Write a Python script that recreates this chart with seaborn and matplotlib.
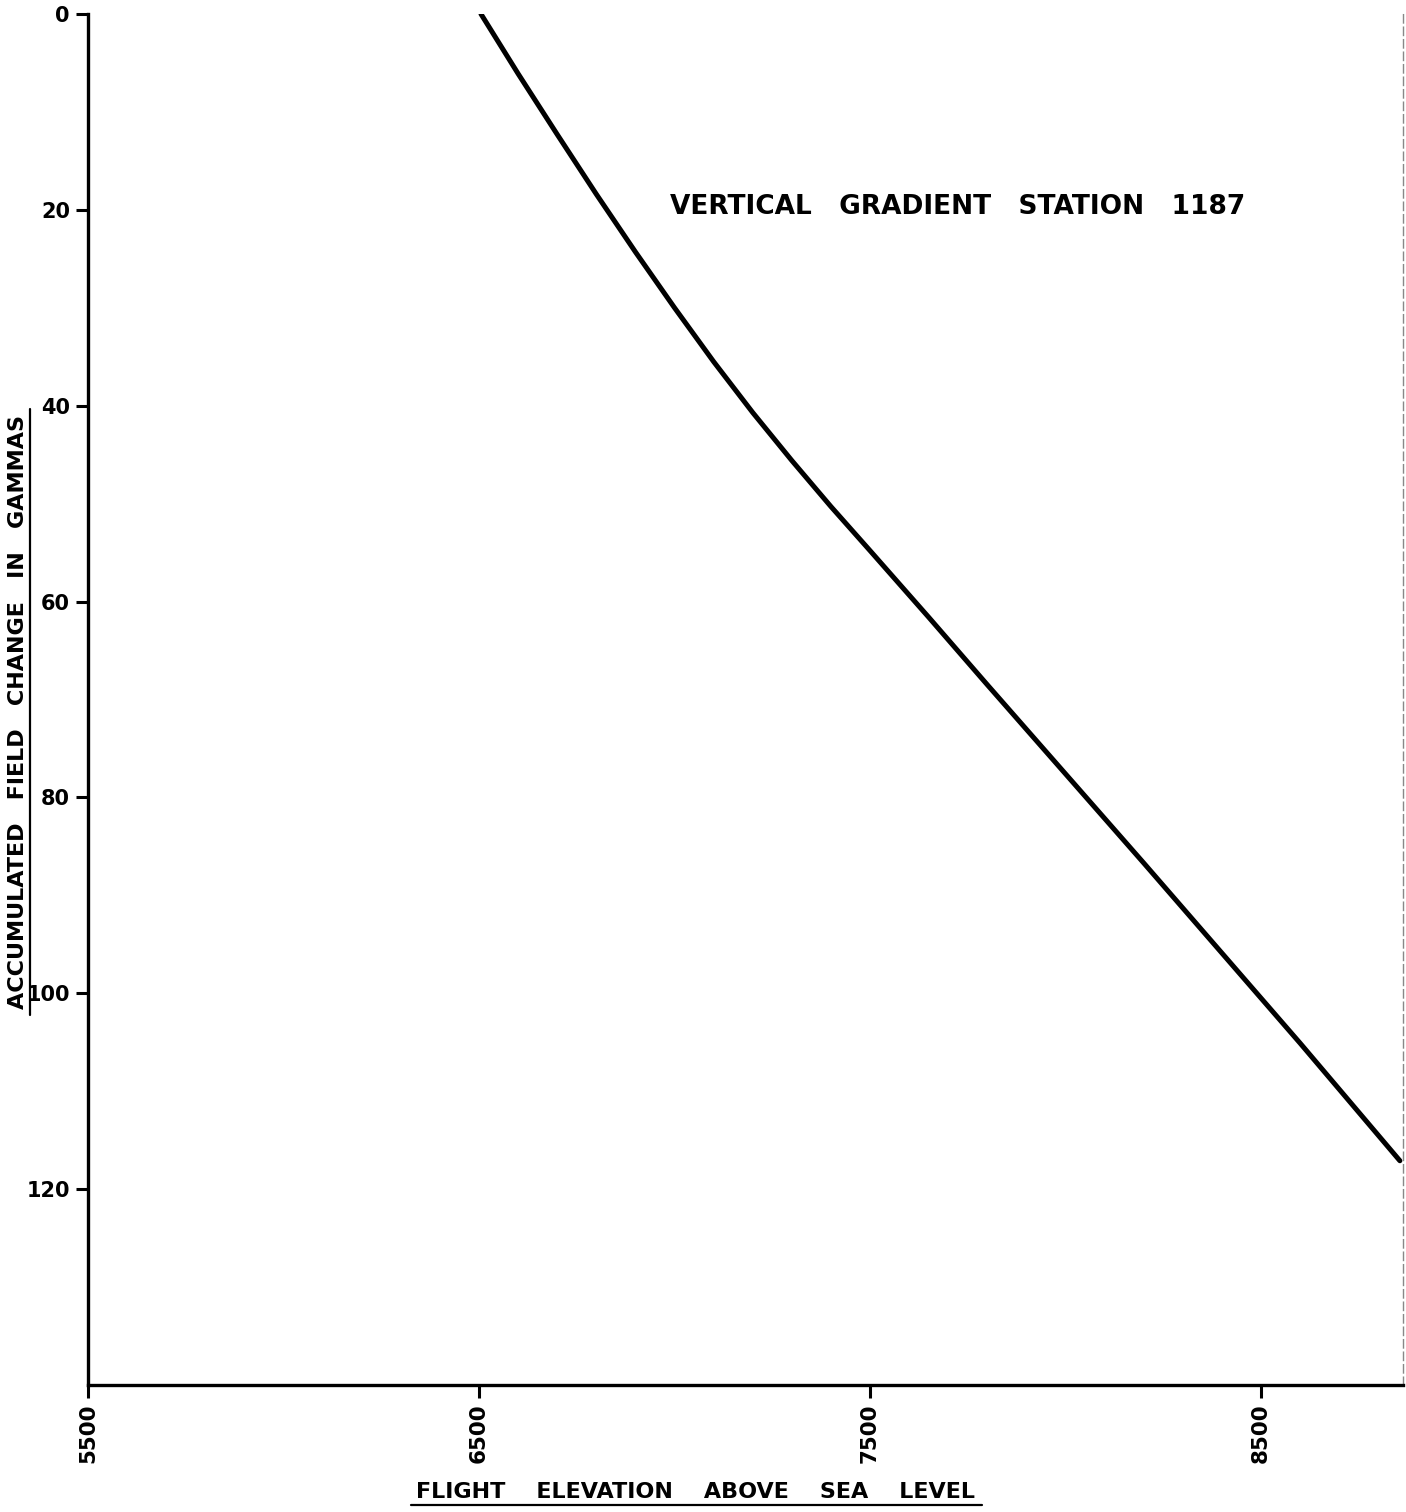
import matplotlib
matplotlib.use("Agg")
import matplotlib.pyplot as plt
from matplotlib.lines import Line2D
import seaborn as sns
import pandas as pd

# curve
elevation = [6505, 6600, 6700, 6800, 6900, 7000, 7100, 7200, 7300, 7400,
             7500, 7650, 7800, 8000, 8200, 8400, 8600, 8855]
field_change = [0, 6.1, 12.3, 18.4, 24.3, 30.0, 35.5, 40.7, 45.6, 50.3,
                54.8, 61.6, 68.5, 77.6, 86.7, 95.9, 105.1, 117.1]

x_ticks = [5500, 6500, 7500, 8500]
y_ticks = [0, 20, 40, 60, 80, 100, 120]

title = "VERTICAL   GRADIENT   STATION   1187"
xlabel = "FLIGHT    ELEVATION    ABOVE    SEA    LEVEL"
ylabel = "ACCUMULATED   FIELD   CHANGE   IN   GAMMAS"

df = pd.DataFrame({"elev": elevation, "gamma": field_change})

sns.set_style("ticks")
plt.rcParams['font.family'] = ['DejaVu Sans']
plt.rcParams['text.color'] = 'black'
plt.rcParams['xtick.color'] = 'black'
plt.rcParams['ytick.color'] = 'black'

W, H = 1406, 1512
fig = plt.figure(figsize=(W / 100, H / 100), dpi=100)
ax = fig.add_axes([88 / W, 1 - 1385 / H, (1403 - 88) / W, (1385 - 14) / H])

sns.lineplot(data=df, x="elev", y="gamma", sort=False, ax=ax,
             color="black", linewidth=3.6)

ax.set_xlim(5500, 8863)
ax.set_ylim(140, 0)
ax.set_xticks(x_ticks)
ax.set_yticks(y_ticks)
ax.set_xticklabels([str(v) for v in x_ticks], rotation=90, fontsize=15.5,
                   fontweight="bold")
ax.set_yticklabels([str(v) for v in y_ticks], fontsize=15,
                   fontweight="bold")
ax.tick_params(axis="both", direction="out", length=9, width=2.2,
               color="black", pad=4)
ax.set_xlabel("")
ax.set_ylabel("")

for side in ["left", "bottom"]:
    ax.spines[side].set_linewidth(2.4)
    ax.spines[side].set_color("black")
ax.spines["top"].set_visible(False)
ax.spines["right"].set_color("#888888")
ax.spines["right"].set_linewidth(1)
ax.spines["right"].set_linestyle((0, (6, 3)))

ax.text(6988, 19.7, title, ha="left", va="center", fontsize=19,
        fontweight="bold")

xl = fig.text(696 / W, 1 - 1492 / H, xlabel, ha="center", va="center",
              fontsize=16, fontweight="bold")
yl = fig.text(18 / W, 1 - 712 / H, ylabel, ha="center", va="center",
              rotation=90, fontsize=16, fontweight="bold")

# underline the axis titles like on the plate
fig.canvas.draw()
r = fig.canvas.get_renderer()
bb = xl.get_window_extent(r)
fig.add_artist(Line2D([(bb.x0 - 6) / W, (bb.x1 + 6) / W],
                      [(bb.y0 - 3) / H, (bb.y0 - 3) / H],
                      transform=fig.transFigure, color="black", lw=1.6))
bb = yl.get_window_extent(r)
fig.add_artist(Line2D([(bb.x1 + 2) / W, (bb.x1 + 2) / W],
                      [(bb.y0 - 6) / H, (bb.y1 + 6) / H],
                      transform=fig.transFigure, color="black", lw=1.6))

fig.savefig("out.png", dpi=100, facecolor="white")
